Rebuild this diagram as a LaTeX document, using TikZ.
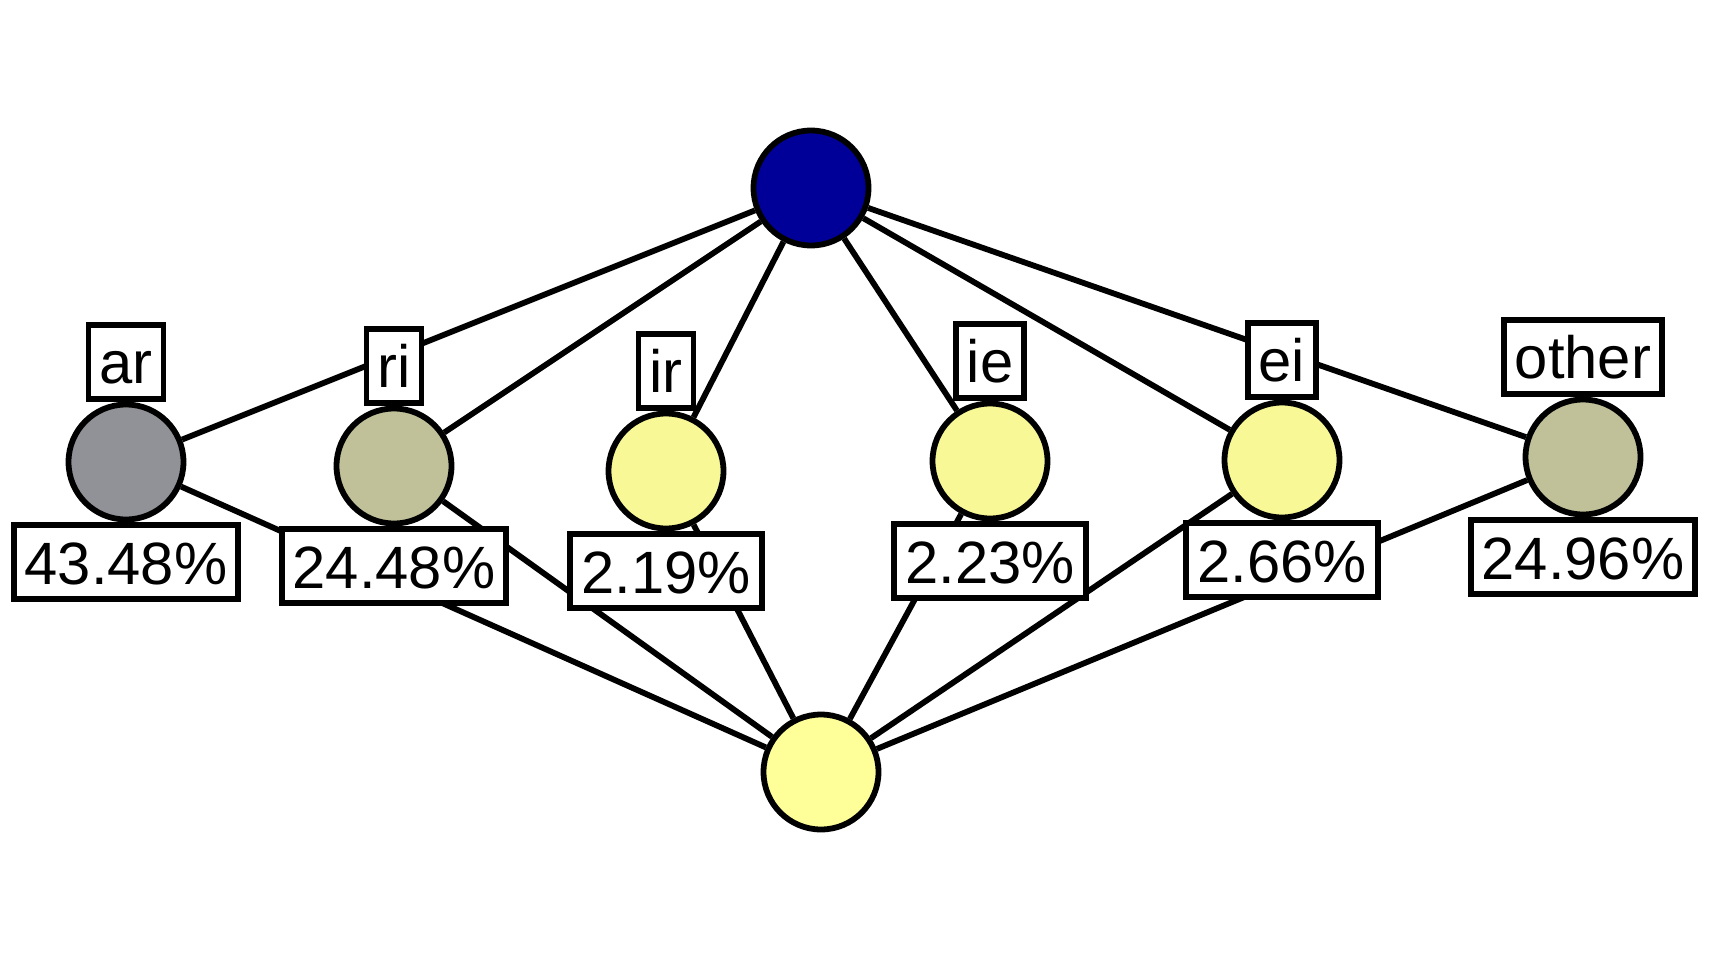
\documentclass[tikz,border=0pt]{standalone}
\usepackage{fontspec}
\setmainfont{Liberation Sans}
\usetikzlibrary{positioning,backgrounds}
\definecolor{rootblue}{RGB}{0,0,153}
\definecolor{sinkyellow}{RGB}{255,255,153}
\definecolor{paleyellow}{RGB}{248,248,150}
\definecolor{olivegrey}{RGB}{192,192,153}
\definecolor{slategrey}{RGB}{145,145,152}

\begin{document}
\begin{tikzpicture}[
		x=0.02cm, y=-0.02cm,
		vertex/.style={circle, draw, line width=3.3pt, minimum size=2.3cm, inner sep=0pt},
		tag/.style={rectangle, draw, fill=white, line width=3.3pt, text height=25pt, text depth=0pt,
			inner ysep=8.5pt, inner xsep=0.22cm, font=\fontsize{34}{40}\selectfont},
		link/.style={line width=3.3pt}
	]
	\useasboundingbox (0,0) rectangle (1709,960);
	\node[vertex, fill=rootblue] (root) at (811,188) {};
	\node[vertex, fill=sinkyellow] (sink) at (821,772) {};

	\node[vertex, fill=slategrey] (ar) at (126,462) {};
	\node[vertex, fill=olivegrey] (ri) at (394,466) {};
	\node[vertex, fill=paleyellow] (ir) at (666,471) {};
	\node[vertex, fill=paleyellow] (ie) at (990,461) {};
	\node[vertex, fill=paleyellow] (ei) at (1282,460) {};
	\node[vertex, fill=olivegrey] (other) at (1583,457) {};

	\node[tag, above=0pt of ar] (ar-name) {ar};
	\node[tag, below=0pt of ar] (ar-share) {43.48\%};
	\node[tag, above=0pt of ri] (ri-name) {ri};
	\node[tag, below=0pt of ri] (ri-share) {24.48\%};
	\node[tag, above=0pt of ir] (ir-name) {ir};
	\node[tag, below=0pt of ir] (ir-share) {2.19\%};
	\node[tag, above=0pt of ie] (ie-name) {ie};
	\node[tag, below=0pt of ie] (ie-share) {2.23\%};
	\node[tag, above=0pt of ei] (ei-name) {ei};
	\node[tag, below=0pt of ei] (ei-share) {2.66\%};
	\node[tag, above=0pt of other] (other-name) {other};
	\node[tag, below=0pt of other] (other-share) {24.96\%};

	\begin{pgfonlayer}{background}
		\foreach \v in {ar,ri,ir,ie,ei,other}
			\draw[link] (root) -- (\v) (\v) -- (sink);
	\end{pgfonlayer}
\end{tikzpicture}
\end{document}
